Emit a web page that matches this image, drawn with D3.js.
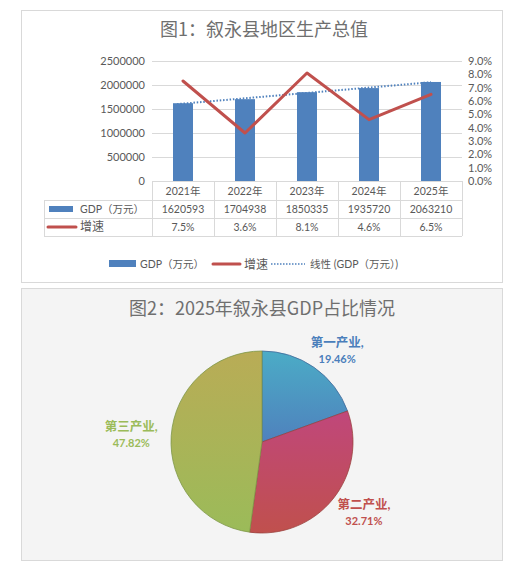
<!DOCTYPE html>
<html>
<head>
<meta charset="utf-8">
<script src="https://cdn.jsdelivr.net/npm/d3@7"></script>
<style>
  body { margin: 0; background: #fff; }
  text { font-family: Lato, 'Noto Sans CJK SC', sans-serif; fill: #595959; }
  .title { font-family: 'Noto Sans CJK SC', sans-serif; font-size: 18px; fill: #6f6f6f; }
</style>
</head>
<body>
<svg id="chart" width="527" height="576"></svg>
<script>
// data
var years = ['2021年', '2022年', '2023年', '2024年', '2025年'];
var gdp = [1620593, 1704938, 1850335, 1935720, 2063210];
var growth = [7.5, 3.6, 8.1, 4.6, 6.5];
var leftTicks = [0, 500000, 1000000, 1500000, 2000000, 2500000];
var rightTicks = [0, 1, 2, 3, 4, 5, 6, 7, 8, 9];
var sectors = ['第一产业', '第二产业', '第三产业'];
var shares = [19.46, 32.71, 47.82];

var blue = '#4f81bd', red = '#c0504d', green = '#9bbb59', grid = '#d9d9d9';

var svg = d3.select('#chart');

// ---------- Figure 1 ----------
svg.append('rect').attr('x', 21.5).attr('y', 10.5).attr('width', 481).attr('height', 272)
    .attr('fill', '#fff').attr('stroke', grid);

svg.append('text').attr('class', 'title').attr('x', 264).attr('y', 36)
    .attr('text-anchor', 'middle').text('图1：叙永县地区生产总值');

var x = d3.scaleBand().domain(years).range([152, 462]);
var y = d3.scaleLinear().domain([0, 2500000]).range([181, 61]);
var y2 = d3.scaleLinear().domain([0, 9]).range([181, 61]);

var g1 = svg.append('g');

// gridlines
g1.selectAll('line.grid').data(leftTicks.slice(1)).enter().append('line')
    .attr('x1', 152).attr('x2', 462)
    .attr('y1', function (d) { return Math.round(y(d)) + 0.5; })
    .attr('y2', function (d) { return Math.round(y(d)) + 0.5; })
    .attr('stroke', grid);

// left axis
var yAxis = d3.axisLeft(y).tickValues(leftTicks).tickSize(0).tickPadding(7).tickFormat(d3.format('d'));
g1.append('g').attr('transform', 'translate(152,0)').call(yAxis)
    .call(function (a) { a.select('.domain').remove(); })
    .selectAll('text').style('font-size', '11px').attr('fill', '#595959');

// right axis
var y2Axis = d3.axisRight(y2).tickValues(rightTicks).tickSize(0).tickPadding(6)
    .tickFormat(function (d) { return d.toFixed(1) + '%'; });
g1.append('g').attr('transform', 'translate(462,0)').call(y2Axis)
    .call(function (a) { a.select('.domain').remove(); })
    .selectAll('text').style('font-size', '11px').attr('fill', '#595959');

// bars
var barW = 20;
g1.selectAll('rect.bar').data(gdp).enter().append('rect')
    .attr('x', function (d, i) { return x(years[i]) + x.bandwidth() / 2 - barW / 2; })
    .attr('y', function (d) { return y(d); })
    .attr('width', barW)
    .attr('height', function (d) { return y(0) - y(d); })
    .attr('fill', blue);

// linear trend of gdp
var n = gdp.length, sx = 0, sy = 0, sxy = 0, sxx = 0;
gdp.forEach(function (v, i) { var k = i + 1; sx += k; sy += v; sxy += k * v; sxx += k * k; });
var slope = (n * sxy - sx * sy) / (n * sxx - sx * sx);
var icpt = (sy - slope * sx) / n;
var cx = function (i) { return x(years[i]) + x.bandwidth() / 2; };
g1.append('line')
    .attr('x1', cx(0) - 6).attr('y1', y(icpt + slope * (1 - 6 / x.bandwidth())))
    .attr('x2', cx(n - 1)).attr('y2', y(icpt + slope * n))
    .attr('stroke', blue).attr('stroke-width', 2).attr('stroke-dasharray', '1.5,1.8');

// growth line
var line = d3.line()
    .x(function (d, i) { return cx(i); })
    .y(function (d) { return y2(d); });
g1.append('path').datum(growth).attr('d', line)
    .attr('fill', 'none').attr('stroke', red).attr('stroke-width', 3)
    .attr('stroke-linejoin', 'round').attr('stroke-linecap', 'round');

// data table
var rows = [181, 200, 218, 236];
var tbl = svg.append('g').attr('stroke', grid).attr('shape-rendering', 'crispEdges');
tbl.append('line').attr('x1', 152).attr('x2', 462).attr('y1', rows[0]).attr('y2', rows[0]);
rows.slice(1).forEach(function (ry) {
    tbl.append('line').attr('x1', 44).attr('x2', 462).attr('y1', ry).attr('y2', ry);
});
tbl.append('line').attr('x1', 44).attr('x2', 44).attr('y1', rows[1]).attr('y2', rows[3]);
x.domain().forEach(function (c) {
    tbl.append('line').attr('x1', x(c)).attr('x2', x(c)).attr('y1', rows[0]).attr('y2', rows[3]);
});
tbl.append('line').attr('x1', 462).attr('x2', 462).attr('y1', rows[0]).attr('y2', rows[3]);

var cells = svg.append('g').style('font-size', '10.5px').attr('text-anchor', 'middle');
years.forEach(function (c, i) {
    cells.append('text').attr('x', cx(i)).attr('y', 195).text(c);
    cells.append('text').attr('x', cx(i)).attr('y', 213).text(gdp[i]);
    cells.append('text').attr('x', cx(i)).attr('y', 231).text(growth[i].toFixed(1) + '%');
});
svg.append('rect').attr('x', 49).attr('y', 206).attr('width', 24).attr('height', 6).attr('fill', blue);
svg.append('text').attr('x', 80).attr('y', 213).style('font-size', '10.5px').text('GDP（万元）');
svg.append('line').attr('x1', 48).attr('x2', 76).attr('y1', 227).attr('y2', 227)
    .attr('stroke', red).attr('stroke-width', 3).attr('stroke-linecap', 'round');
svg.append('text').attr('x', 80).attr('y', 231).style('font-size', '12px').text('增速');

// legend
var lg = svg.append('g').style('font-size', '10.5px');
lg.append('rect').attr('x', 109).attr('y', 260).attr('width', 27).attr('height', 7).attr('fill', blue);
lg.append('text').attr('x', 140).attr('y', 268).text('GDP（万元）');
lg.append('line').attr('x1', 213).attr('x2', 240).attr('y1', 264).attr('y2', 264)
    .attr('stroke', red).attr('stroke-width', 3).attr('stroke-linecap', 'round');
lg.append('text').attr('x', 244).attr('y', 269).style('font-size', '12px').text('增速');
lg.append('line').attr('x1', 271).attr('x2', 305).attr('y1', 264).attr('y2', 264)
    .attr('stroke', blue).attr('stroke-width', 1.5).attr('stroke-dasharray', '1.5,1.5');
lg.append('text').attr('x', 310).attr('y', 268).text('线性 (GDP（万元）)');

// ---------- Figure 2 ----------
svg.append('rect').attr('x', 21.5).attr('y', 288.5).attr('width', 481).attr('height', 272)
    .attr('fill', '#f4f4f4').attr('stroke', grid);
svg.append('text').attr('class', 'title').attr('x', 262).attr('y', 315)
    .attr('text-anchor', 'middle').text('图2：2025年叙永县GDP占比情况');

var grads = [['#4bacc6', '#4f81bd'], ['#c0477b', '#c0504d'], ['#b9ac56', '#9bbb59']];
var labelColors = ['#4a7ebb', red, green];
var defs = svg.append('defs');
grads.forEach(function (gc, i) {
    var lgd = defs.append('linearGradient').attr('id', 'pg' + i)
        .attr('x1', 0).attr('y1', 0).attr('x2', 0).attr('y2', 1);
    lgd.append('stop').attr('offset', '0%').attr('stop-color', gc[0]);
    lgd.append('stop').attr('offset', '100%').attr('stop-color', gc[1]);
});

var R = 91;
var pie = d3.pie().sort(null).value(function (d) { return d; });
var arc = d3.arc().innerRadius(0).outerRadius(R);
var pg = svg.append('g').attr('transform', 'translate(262,442)');
var arcs = pie(shares);
pg.selectAll('path').data(arcs).enter().append('path')
    .attr('d', arc)
    .attr('fill', function (d, i) { return 'url(#pg' + i + ')'; })
    .attr('stroke', function (d, i) { return d3.color(grads[i][1]).darker(0.6); })
    .attr('stroke-width', 0.8);

// outside labels, placed on an ellipse around the pie at each slice's mid angle
var rx = 131, ry = 112;
var lab = pg.selectAll('g.lab').data(arcs).enter().append('g')
    .attr('transform', function (d) {
        var a = (d.startAngle + d.endAngle) / 2;
        return 'translate(' + (rx * Math.sin(a)) + ',' + (-ry * Math.cos(a)) + ')';
    })
    .attr('text-anchor', 'middle').style('font-weight', 'bold');
lab.append('text').attr('y', -3).style('font-size', '12.5px')
    .style('fill', function (d, i) { return labelColors[i]; })
    .text(function (d, i) { return sectors[i] + ','; });
lab.append('text').attr('y', 13).style('font-size', '11px')
    .style('fill', function (d, i) { return labelColors[i]; })
    .text(function (d) { return d.data.toFixed(2) + '%'; });
</script>
</body>
</html>
